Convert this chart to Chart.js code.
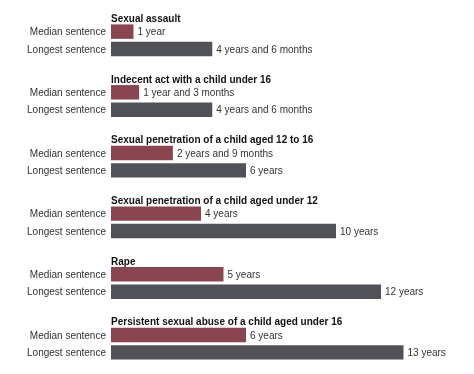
<!DOCTYPE html>
<html>
<head>
<meta charset="utf-8">
<script src="https://cdn.jsdelivr.net/npm/chart.js@4"></script>
<style>
  html, body { margin: 0; padding: 0; background: #fff; }
  #wrap { width: 474px; height: 374px; }
</style>
</head>
<body>
<div id="wrap"><canvas id="grafico"></canvas></div>
<script>
const crimes = [
  "Sexual assault",
  "Indecent act with a child under 16",
  "Sexual penetration of a child aged 12 to 16",
  "Sexual penetration of a child aged under 12",
  "Rape",
  "Persistent sexual abuse of a child aged under 16"
];
const medianYears = [1, 1.25, 2.75, 4, 5, 6];
const longestYears = [4.5, 4.5, 6, 10, 12, 13];
const medianText = ["1 year", "1 year and 3 months", "2 years and 9 months", "4 years", "5 years", "6 years"];
const longestText = ["4 years and 6 months", "4 years and 6 months", "6 years", "10 years", "12 years", "13 years"];
const seriesNames = ["Median sentence", "Longest sentence"];

const fonte = "Liberation Sans, Arial, sans-serif";

// texto um pouco estreitado, como no original
function escreve(ctx, str, x, y, align) {
  ctx.save();
  ctx.translate(x, y);
  ctx.scale(0.87, 1);
  ctx.textAlign = align;
  ctx.fillText(str, 0, 0);
  ctx.restore();
}

const rotulos = {
  id: "rotulos",
  afterDatasetsDraw(chart) {
    const ctx = chart.ctx;
    const left = chart.chartArea.left;
    const textos = [medianText, longestText];
    ctx.save();
    chart.data.datasets.forEach((ds, i) => {
      chart.getDatasetMeta(i).data.forEach((bar, j) => {
        const h = bar.height;
        ctx.font = "11.5px " + fonte;
        ctx.fillStyle = "#333";
        ctx.textBaseline = "middle";
        escreve(ctx, textos[i][j], bar.x + 4, bar.y + 0.5, "left");
        escreve(ctx, seriesNames[i], left - 5, bar.y + 0.5, "right");
        if (i === 0) {
          ctx.font = "bold 11.5px " + fonte;
          ctx.fillStyle = "#111";
          ctx.textBaseline = "alphabetic";
          escreve(ctx, crimes[j], left, bar.y - h / 2 - 2.5, "left");
        }
      });
    });
    ctx.restore();
  }
};

new Chart(document.getElementById("grafico"), {
  type: "bar",
  data: {
    labels: crimes,
    datasets: [
      { label: seriesNames[0], data: medianYears, backgroundColor: "#8a4650" },
      { label: seriesNames[1], data: longestYears, backgroundColor: "#515158" }
    ]
  },
  options: {
    indexAxis: "y",
    responsive: true,
    maintainAspectRatio: false,
    animation: false,
    categoryPercentage: 0.574,
    barPercentage: 0.83,
    layout: { padding: { left: 111, right: 3, top: 10, bottom: 0 } },
    scales: {
      x: { min: 0, max: 16, display: false },
      y: { display: false }
    },
    plugins: { legend: { display: false }, tooltip: { enabled: false } }
  },
  plugins: [rotulos]
});
</script>
</body>
</html>
